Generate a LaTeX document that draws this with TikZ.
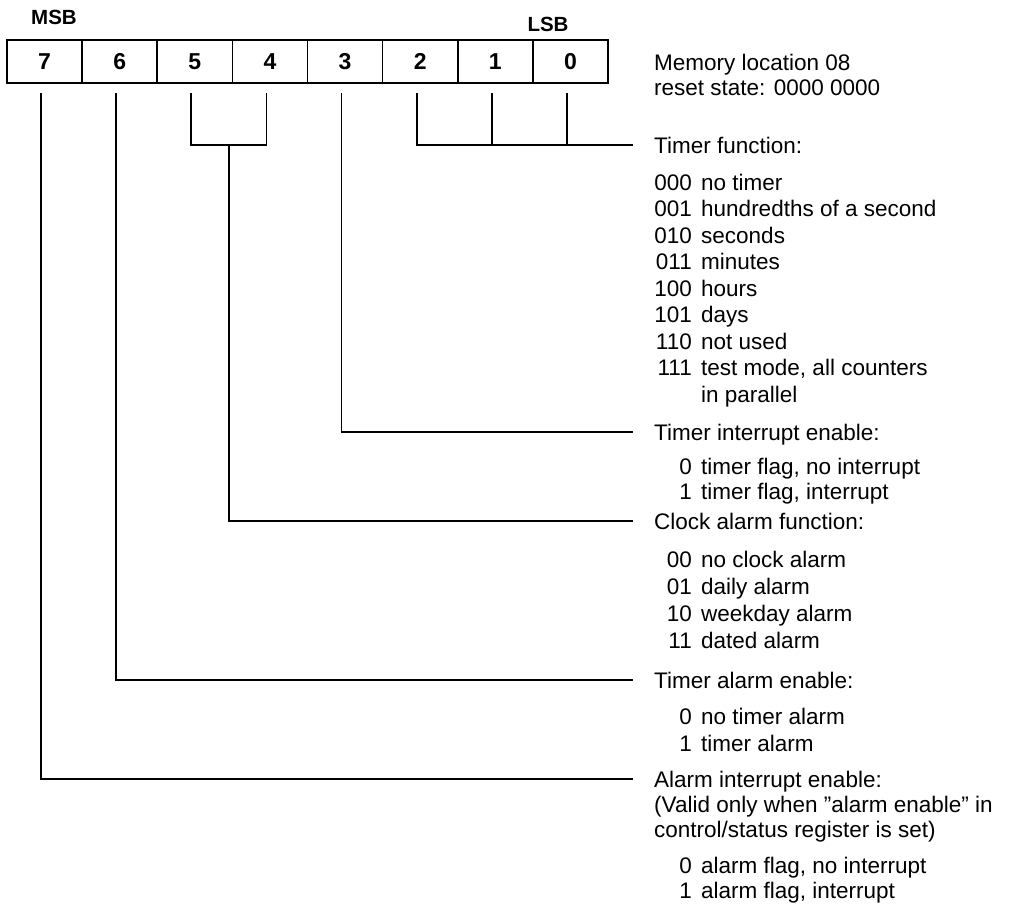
\documentclass[tikz,border=0pt]{standalone}
\usepackage{fontspec}
\setmainfont{Liberation Sans}
\begin{document}
\begin{tikzpicture}[x=1pt,y=-1pt,
  cell/.style={draw, line width=1.7pt, minimum width=75.125pt, minimum height=43pt, inner sep=0pt, outer sep=0pt, font=\fontsize{23}{26}\selectfont\bfseries},
  lbl/.style={inner sep=0pt, font=\fontsize{20.5}{24}\selectfont\bfseries},
  txt/.style={inner sep=0pt, anchor=base west, font=\fontsize{22.5}{26}\selectfont},
  code/.style={inner sep=0pt, anchor=base east, font=\fontsize{22.5}{26}\selectfont},
  head/.style={inner sep=0pt, anchor=west, text height=16pt, text depth=0pt, font=\fontsize{22.5}{26}\selectfont},
  wire/.style={line width=1.7pt, line join=miter, line cap=rect}]
\useasboundingbox (0,0) rectangle (1011,911);

% register cells
\node[cell] (b7) at (44.56,61.5) {7};
\node[cell] (b6) at (119.69,61.5) {6};
\node[cell] (b5) at (194.81,61.5) {5};
\node[cell] (b4) at (269.94,61.5) {4};
\node[cell] (b3) at (345.06,61.5) {3};
\node[cell] (b2) at (420.19,61.5) {2};
\node[cell] (b1) at (495.31,61.5) {1};
\node[cell] (b0) at (570.44,61.5) {0};

\node[lbl] (msb) at (54,17) {MSB};
\node[lbl] (lsb) at (548,24) {LSB};

\node[txt] (mem) at (654,70) {Memory location 08};
\node[txt] (rst) at (654,95) {reset state: 0000 0000};

% Timer function
\node[head] (hTF) at (654,145) {Timer function:};
\node[code] (tfc1) at (692,190) {000};   \node[txt] (tfd1) at (701,190) {no timer};
\node[code] (tfc2) at (692,216.5) {001}; \node[txt] (tfd2) at (701,216.5) {hundredths of a second};
\node[code] (tfc3) at (692,243) {010};   \node[txt] (tfd3) at (701,243) {seconds};
\node[code] (tfc4) at (692,269.5) {011}; \node[txt] (tfd4) at (701,269.5) {minutes};
\node[code] (tfc5) at (692,296) {100};   \node[txt] (tfd5) at (701,296) {hours};
\node[code] (tfc6) at (692,322.5) {101}; \node[txt] (tfd6) at (701,322.5) {days};
\node[code] (tfc7) at (692,349) {110};   \node[txt] (tfd7) at (701,349) {not used};
\node[code] (tfc8) at (692,375.5) {111}; \node[txt] (tfd8) at (701,375.5) {test mode, all counters};
\node[txt] (tfd9) at (701,402) {in parallel};

% Timer interrupt enable
\node[head] (hTIE) at (654,432) {Timer interrupt enable:};
\node[code] (tic1) at (692,474) {0}; \node[txt] (tid1) at (701,474) {timer flag, no interrupt};
\node[code] (tic2) at (692,499) {1}; \node[txt] (tid2) at (701,499) {timer flag, interrupt};

% Clock alarm function
\node[head] (hCAF) at (654,521) {Clock alarm function:};
\node[code] (cac1) at (692,567) {00}; \node[txt] (cad1) at (701,567) {no clock alarm};
\node[code] (cac2) at (692,594) {01}; \node[txt] (cad2) at (701,594) {daily alarm};
\node[code] (cac3) at (692,621) {10}; \node[txt] (cad3) at (701,621) {weekday alarm};
\node[code] (cac4) at (692,648) {11}; \node[txt] (cad4) at (701,648) {dated alarm};

% Timer alarm enable
\node[head] (hTAE) at (654,680) {Timer alarm enable:};
\node[code] (tac1) at (692,724) {0}; \node[txt] (tad1) at (701,724) {no timer alarm};
\node[code] (tac2) at (692,751) {1}; \node[txt] (tad2) at (701,751) {timer alarm};

% Alarm interrupt enable
\node[head] (hAIE) at (654,779) {Alarm interrupt enable:};
\node[txt] (aiv1) at (654,812) {(Valid only when ''alarm enable'' in};
\node[txt] (aiv2) at (654,837) {control/status register is set)};
\node[code] (aic1) at (692,873) {0}; \node[txt] (aid1) at (701,873) {alarm flag, no interrupt};
\node[code] (aic2) at (692,898) {1}; \node[txt] (aid2) at (701,898) {alarm flag, interrupt};

% connectors
\coordinate (j54) at (229,145);
\draw[wire] ([xshift=-3.5pt,yshift=-11pt]b7.south) |- ([xshift=-22pt]hAIE.west);
\draw[wire] ([xshift=-3.5pt,yshift=-11pt]b6.south) |- ([xshift=-22pt]hTAE.west);
\draw[wire] ([xshift=-3.5pt,yshift=-11pt]b5.south) |- (j54) -| ([xshift=-3.5pt,yshift=-11pt]b4.south);
\draw[wire] (j54) |- ([xshift=-22pt]hCAF.west);
\draw[wire] ([xshift=-3.5pt,yshift=-11pt]b3.south) |- ([xshift=-22pt]hTIE.west);
\draw[wire] ([xshift=-3.5pt,yshift=-11pt]b2.south) |- ([xshift=-22pt]hTF.west);
\draw[wire] ([xshift=-3.5pt,yshift=-11pt]b1.south) -- ([xshift=-3.5pt]b1.south |- hTF.west);
\draw[wire] ([xshift=-3.5pt,yshift=-11pt]b0.south) -- ([xshift=-3.5pt]b0.south |- hTF.west);
\end{tikzpicture}
\end{document}
